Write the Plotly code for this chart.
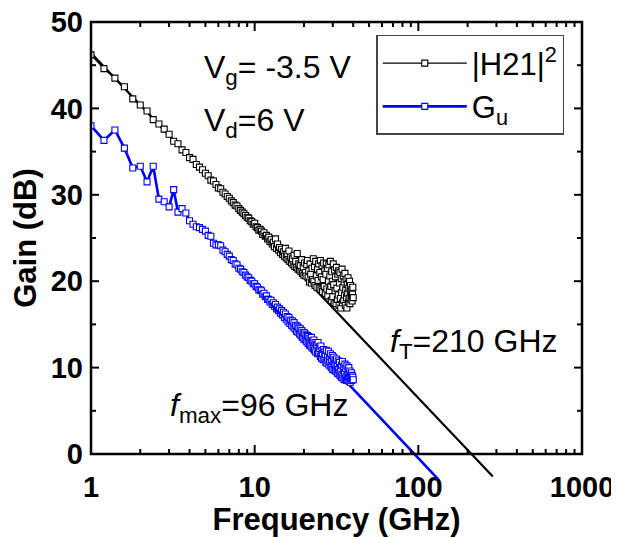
import plotly.graph_objects as go

# ---- data ----
freq_ghz = [
    1.0, 1.2, 1.4, 1.6, 1.8, 2.0, 2.2, 2.4, 2.6, 2.8,
    3.0, 3.2, 3.4, 3.6, 3.8, 4.0, 4.2, 4.4, 4.6, 4.8,
    5.0, 5.2, 5.4, 5.6, 5.8, 6.0, 6.2, 6.4, 6.6, 6.8,
    7.0, 7.2, 7.4, 7.6, 7.8, 8.0, 8.2, 8.4, 8.6, 8.8,
    9.0, 9.2, 9.4, 9.6, 9.8, 10.0, 10.2, 10.4, 10.6, 10.8,
    11.0, 11.2, 11.4, 11.6, 11.8, 12.0, 12.2, 12.4, 12.6, 12.8,
    13.0, 13.2, 13.4, 13.6, 13.8, 14.0, 14.2, 14.4, 14.6, 14.8,
    15.0, 15.2, 15.4, 15.6, 15.8, 16.0, 16.2, 16.4, 16.6, 16.8,
    17.0, 17.2, 17.4, 17.6, 17.8, 18.0, 18.2, 18.4, 18.6, 18.8,
    19.0, 19.2, 19.4, 19.6, 19.8, 20.0, 20.2, 20.4, 20.6, 20.8,
    21.0, 21.2, 21.4, 21.6, 21.8, 22.0, 22.2, 22.4, 22.6, 22.8,
    23.0, 23.2, 23.4, 23.6, 23.8, 24.0, 24.2, 24.4, 24.6, 24.8,
    25.0, 25.2, 25.4, 25.6, 25.8, 26.0, 26.2, 26.4, 26.6, 26.8,
    27.0, 27.2, 27.4, 27.6, 27.8, 28.0, 28.2, 28.4, 28.6, 28.8,
    29.0, 29.2, 29.4, 29.6, 29.8, 30.0, 30.2, 30.4, 30.6, 30.8,
    31.0, 31.2, 31.4, 31.6, 31.8, 32.0, 32.2, 32.4, 32.6, 32.8,
    33.0, 33.2, 33.4, 33.6, 33.8, 34.0, 34.2, 34.4, 34.6, 34.8,
    35.0, 35.2, 35.4, 35.6, 35.8, 36.0, 36.2, 36.4, 36.6, 36.8,
    37.0, 37.2, 37.4, 37.6, 37.8, 38.0, 38.2, 38.4, 38.6, 38.8,
    39.0, 39.2, 39.4, 39.6, 39.8, 40.0,
]

h21_db = [
    46.2, 44.6, 43.5, 42.5, 41.1, 40.4, 39.7, 38.7, 38.2, 37.6,
    37.0, 36.2, 35.9, 35.2, 34.9, 34.3, 34.1, 33.5, 33.2, 32.9,
    32.5, 32.2, 31.7, 31.6, 31.2, 30.8, 30.7, 30.3, 30.1, 29.8,
    29.6, 29.3, 29.1, 28.8, 28.7, 28.4, 28.2, 28.0, 27.8, 27.6,
    27.4, 27.3, 27.0, 26.9, 26.6, 26.7, 26.3, 26.2, 25.9, 26.0,
    25.8, 25.4, 25.6, 25.2, 25.3, 24.9, 25.1, 24.6, 24.8, 24.3,
    24.5, 24.0, 24.9, 23.8, 24.3, 23.6, 23.9, 23.3, 23.7, 23.1,
    23.4, 22.9, 23.8, 22.7, 23.1, 22.5, 23.5, 22.3, 22.8, 22.1,
    22.6, 21.9, 23.0, 21.7, 22.3, 21.6, 23.2, 21.4, 22.0, 21.3,
    21.8, 21.1, 22.5, 20.9, 21.6, 20.7, 22.1, 21.0, 20.6, 21.9,
    22.4, 20.4, 21.2, 19.9, 22.0, 20.8, 19.8, 21.5, 20.2, 22.6,
    20.0, 21.7, 19.5, 22.3, 20.6, 19.3, 21.4, 20.1, 22.0, 19.2,
    21.0, 22.4, 19.0, 20.5, 21.8, 18.8, 20.2, 22.1, 19.4, 21.2,
    18.6, 20.8, 22.0, 19.1, 21.5, 18.3, 20.0, 21.9, 18.9, 20.6,
    22.3, 19.4, 17.8, 21.1, 20.0, 18.2, 22.0, 19.6, 17.5, 21.3,
    18.9, 20.5, 17.4, 21.6, 19.2, 17.9, 20.8, 18.4, 21.2, 17.2,
    19.8, 21.0, 18.0, 16.9, 20.3, 18.7, 21.4, 17.5, 19.3, 20.6,
    17.8, 19.9, 18.4, 20.9, 17.2, 19.0, 20.2, 18.1, 16.9, 19.6,
    18.6, 20.4, 17.6, 19.2, 18.0, 20.0, 17.4, 18.8, 19.5, 17.9,
    18.3, 19.0, 17.7, 18.5, 19.3, 18.1,
]

gu_db = [
    38.0, 36.3, 37.5, 35.4, 33.1, 33.3, 31.5, 33.3, 29.5, 29.2,
    28.6, 30.6, 28.0, 28.4, 27.9, 27.0, 26.6, 26.3, 26.2, 26.0,
    25.8, 25.3, 25.2, 24.4, 24.2, 24.2, 24.1, 23.6, 23.4, 23.1,
    22.9, 22.5, 22.4, 22.0, 21.9, 21.5, 21.4, 21.1, 21.0, 20.7,
    20.5, 20.4, 20.1, 20.0, 19.7, 19.7, 19.4, 19.3, 19.0, 19.0,
    18.9, 18.5, 18.6, 18.2, 18.3, 17.9, 17.9, 17.6, 17.8, 17.3,
    17.5, 17.1, 17.3, 16.8, 17.0, 16.6, 16.8, 16.3, 16.6, 16.1,
    16.4, 15.8, 16.2, 15.6, 15.9, 15.3, 15.8, 15.1, 15.5, 14.9,
    15.4, 14.7, 15.2, 14.5, 14.9, 14.2, 14.8, 14.1, 14.6, 13.9,
    14.5, 13.7, 14.3, 13.5, 14.1, 13.3, 14.0, 13.2, 13.8, 13.0,
    13.7, 12.8, 13.6, 12.6, 13.4, 12.5, 13.5, 12.3, 13.1, 12.2,
    13.2, 12.0, 12.9, 11.8, 12.7, 12.6, 11.6, 12.9, 11.7, 12.4,
    12.2, 11.3, 12.5, 11.1, 12.0, 11.6, 10.9, 12.1, 11.0, 11.8,
    11.5, 10.6, 12.0, 10.5, 11.3, 10.8, 11.9, 10.3, 11.1, 10.6,
    11.6, 10.1, 10.9, 10.0, 11.4, 9.8, 10.7, 11.2, 9.7, 10.5,
    10.9, 9.6, 10.4, 11.0, 9.5, 10.2, 9.3, 10.8, 9.8, 9.4,
    10.6, 9.1, 10.0, 9.6, 8.9, 10.3, 9.2, 10.7, 8.8, 9.7,
    10.1, 8.6, 9.4, 10.4, 8.7, 9.9, 9.0, 8.5, 10.2, 9.1,
    8.6, 9.8, 8.9, 10.0, 8.4, 9.3, 9.6, 8.3, 9.0, 8.8,
    9.4, 8.5, 9.1, 8.7, 8.9, 8.6,
]

# extrapolation lines (fT = 210 GHz, fmax = 96 GHz)
ft_fit_freq = [1.0, 285.0]
ft_fit_db = [46.4, -2.6]
fmax_fit_freq = [10.0, 132.0]
fmax_fit_db = [19.6, -2.9]

x_tickvals = [1, 10, 100, 1000]
x_ticktext = ["1", "10", "100", "1000"]
y_tickvals = [0, 10, 20, 30, 40, 50]
x_minor = [m * d for d in (1, 10, 100) for m in range(2, 10)]
y_minor = [5, 15, 25, 35, 45]

# ---- layout geometry (page body adds an 8 px offset) ----
W, H = 611, 529
ML, MR, MT, MB = 83, 37, 14, 53
EXT = 30  # px strip under the frame where the extrapolation lines continue
plot_w = W - ML - MR
plot_h = H - MT - MB
split = EXT / plot_h
main_px = plot_h - EXT
ext_min = -50.0 * EXT / main_px

FONT = "Liberation Sans, Arial, sans-serif"

fig = go.Figure()

fit_specs = [
    (ft_fit_freq, ft_fit_db, "black", 2.2),
    (fmax_fit_freq, fmax_fit_db, "#0000ff", 2.6),
]
for xs, ys, col, lw in fit_specs:
    for xa, ya in (("x", "y"), ("x2", "y2")):
        fig.add_trace(go.Scatter(
            x=xs, y=ys, mode="lines", showlegend=False, hoverinfo="skip",
            line=dict(color=col, width=lw), xaxis=xa, yaxis=ya,
        ))

fig.add_trace(go.Scatter(
    x=freq_ghz, y=h21_db, mode="lines+markers", name="|H21|<sup>2</sup>",
    line=dict(color="black", width=1.3),
    marker=dict(symbol="square", size=6, color="white",
                line=dict(color="black", width=1.1)),
    xaxis="x", yaxis="y",
))
fig.add_trace(go.Scatter(
    x=freq_ghz, y=gu_db, mode="lines+markers", name="G<sub>u</sub>",
    line=dict(color="#0000ff", width=2.6),
    marker=dict(symbol="square", size=6, color="white",
                line=dict(color="#0000ff", width=1.1)),
    xaxis="x", yaxis="y",
))

# ---- inside tick marks on all four sides, drawn as line segments ----
px_x = 3.0 / plot_w      # one pixel in decades along x
px_y = 50.0 / main_px    # one pixel in dB along y
tx, ty = [], []
for vals, length in ((x_tickvals, 9), (x_minor, 5)):
    for v in vals:
        tx += [v, v, None, v, v, None]
        ty += [0, length * px_y, None, 50 - length * px_y, 50, None]
for vals, length in ((y_tickvals, 8), (y_minor, 5)):
    for v in vals:
        tx += [1, 10 ** (length * px_x), None, 10 ** (3 - length * px_x), 1000, None]
        ty += [v, v, None, v, v, None]
fig.add_trace(go.Scatter(
    x=tx, y=ty, mode="lines", showlegend=False, hoverinfo="skip",
    line=dict(color="black", width=2), connectgaps=False,
    xaxis="x", yaxis="y",
))

tickfont = dict(family=FONT, size=29, color="black", weight="bold")
titlefont = dict(family=FONT, size=31, color="black", weight="bold")

fig.update_layout(
    width=W, height=H,
    margin=dict(l=ML, r=MR, t=MT, b=MB, pad=0, autoexpand=False),
    paper_bgcolor="white", plot_bgcolor="white",
    showlegend=True,
    xaxis=dict(
        type="log", range=[0, 3], domain=[0, 1], anchor="y",
        showline=False, ticks="",
        tickvals=x_tickvals, ticktext=x_ticktext, tickfont=tickfont,
        ticklabelstandoff=13,
        showgrid=False, zeroline=False, automargin=False,
        title=dict(text="Frequency (GHz)", font=titlefont, standoff=5),
    ),
    yaxis=dict(
        range=[0, 50], domain=[split, 1], anchor="x",
        showline=False, ticks="",
        tickvals=y_tickvals, tickfont=tickfont, ticklabelstandoff=7,
        ticklabeloverflow="allow",
        showgrid=False, zeroline=False, automargin=False,
        title=dict(text="Gain (dB)", font=titlefont, standoff=4),
    ),
    xaxis2=dict(type="log", range=[0, 3], domain=[0, 1], anchor="y2",
                visible=False, showgrid=False, zeroline=False, automargin=False),
    yaxis2=dict(range=[ext_min, 0], domain=[0, split], anchor="x2",
                visible=False, showgrid=False, zeroline=False, automargin=False),
    legend=dict(
        x=0.581, y=0.972, xanchor="left", yanchor="top",
        xref="paper", yref="paper",
        bgcolor="white", bordercolor="#444444", borderwidth=1.5,
        font=dict(family=FONT, size=31, color="black"),
        itemwidth=84, tracegroupgap=0,
    ),
    shapes=[dict(type="rect", xref="x domain", yref="y domain",
                 x0=0, x1=1, y0=0, y1=1, line=dict(color="black", width=2.5),
                 layer="above")],
)

ann_font = dict(family=FONT, size=32, color="black")
annotations = [
    dict(text="V<sub>g</sub>= -3.5 V", x=0.227, y=0.897),
    dict(text="V<sub>d</sub>=6 V", x=0.227, y=0.783),
    dict(text="<i>f</i><sub>T</sub>=210 GHz", x=0.604, y=0.305),
    dict(text="<i>f</i><sub>max</sub>=96 GHz", x=0.156, y=0.166),
]
for a in annotations:
    fig.add_annotation(
        text=a["text"], x=a["x"], y=a["y"], xref="paper", yref="paper",
        xanchor="left", yanchor="middle", showarrow=False, font=ann_font,
    )

fig.write_html("out.html")
